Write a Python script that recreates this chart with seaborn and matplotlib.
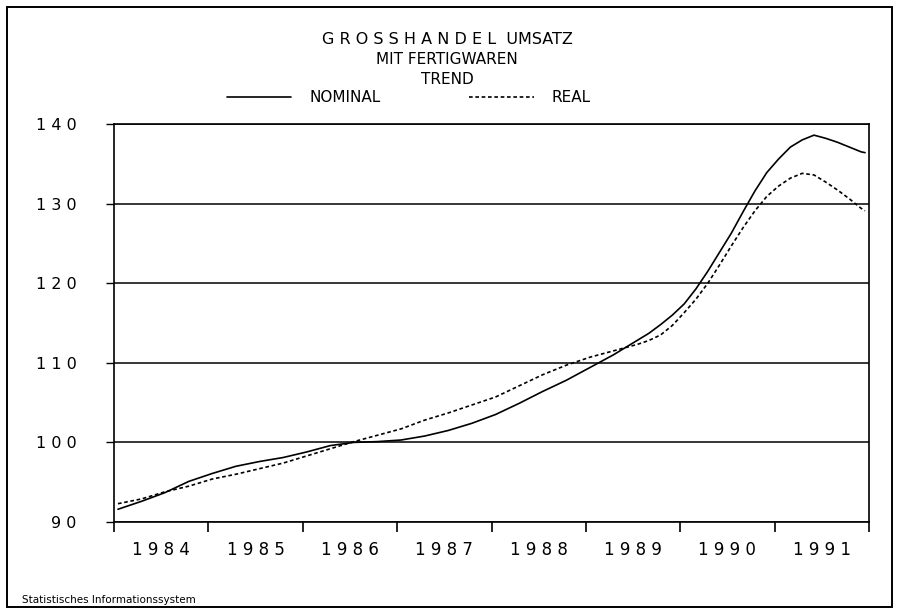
import numpy as np
import pandas as pd
import matplotlib
matplotlib.use("Agg")
import matplotlib.pyplot as plt
from matplotlib.patches import Rectangle
import seaborn as sns

# time axis: quarterly readings up to mid 1989, then every 1.5 months up to Dec 1991
t_quarterly = [1984.042, 1984.292, 1984.542, 1984.792,
               1985.042, 1985.292, 1985.542, 1985.792,
               1986.042, 1986.292, 1986.542, 1986.792,
               1987.042, 1987.292, 1987.542, 1987.792,
               1988.042, 1988.292, 1988.542, 1988.792,
               1989.042, 1989.292, 1989.542]
t_fine = [1989.667, 1989.792, 1989.917,
          1990.042, 1990.167, 1990.292, 1990.417, 1990.542, 1990.667, 1990.792, 1990.917,
          1991.042, 1991.167, 1991.292, 1991.417, 1991.542, 1991.667, 1991.792, 1991.917,
          1991.958]
nominal = [91.6, 92.6, 93.7, 95.1,
           96.1, 97.0, 97.6, 98.1,
           98.8, 99.6, 100.0, 100.1,
           100.3, 100.8, 101.5, 102.4,
           103.5, 104.9, 106.4, 107.8,
           109.4, 111.0, 112.8,
           113.7, 114.8, 116.0,
           117.4, 119.3, 121.5, 123.9, 126.3, 129.0, 131.6, 133.9,
           135.6, 137.1, 138.0, 138.6, 138.2, 137.7, 137.1, 136.5,
           136.4]
real = [92.3, 92.9, 93.8, 94.5,
        95.4, 96.0, 96.7, 97.4,
        98.3, 99.2, 100.1, 100.9,
        101.7, 102.8, 103.7, 104.7,
        105.7, 107.1, 108.5, 109.7,
        110.7, 111.5, 112.3,
        112.8, 113.5, 114.7,
        116.3, 118.0, 120.0, 122.3, 124.7, 127.0, 129.1, 130.9,
        132.2, 133.2, 133.8, 133.6, 132.7, 131.7, 130.6, 129.4,
        129.1]
series_names = ["NOMINAL", "REAL"]
years = list(range(1984, 1992))
y_ticks = [90, 100, 110, 120, 130, 140]

t = t_quarterly + t_fine
df = pd.concat([
    pd.DataFrame({"t": t, "wert": nominal, "reihe": series_names[0]}),
    pd.DataFrame({"t": t, "wert": real, "reihe": series_names[1]}),
])

sns.set_style("white")
plt.rcParams["font.family"] = ["DejaVu Sans"]
plt.rcParams["text.color"] = "black"
plt.rcParams["xtick.color"] = "black"
plt.rcParams["ytick.color"] = "black"

fig = plt.figure(figsize=(8.97, 6.09), dpi=100)
ax = fig.add_axes([114 / 897, 1 - 522 / 609, 755 / 897, 398 / 609])

sns.lineplot(data=df, x="t", y="wert", hue="reihe", style="reihe",
             palette=["black", "black"],
             dashes={"NOMINAL": "", "REAL": (2.2, 1.6)},
             linewidth=1.2, ax=ax)

ax.set_xlim(1984, 1992)
ax.set_ylim(90, 140)
ax.set_xlabel("")
ax.set_ylabel("")

# y axis: spaced digits, gridlines
ax.set_yticks(y_ticks)
ax.set_yticklabels([" ".join(str(v)) for v in y_ticks])
ax.yaxis.grid(True, color="black", linewidth=1.1)
ax.tick_params(axis="y", direction="out", length=6, width=1, color="black",
               labelsize=11.5, pad=21, left=True)

# x axis: year labels in the middle, ticks at year boundaries
ax.set_xticks([y + 0.5 for y in years])
ax.set_xticklabels([" ".join(str(y)) for y in years])
ax.set_xticks(list(range(1984, 1993)), minor=True)
ax.tick_params(axis="x", which="major", length=0, labelsize=12, pad=14)
ax.tick_params(axis="x", which="minor", direction="out", length=7, width=1.2,
               color="black", bottom=True)

for side in ["left", "right", "bottom", "top"]:
    ax.spines[side].set_visible(True)
    ax.spines[side].set_color("black")
    ax.spines[side].set_linewidth(1.2)

handles, labels = ax.get_legend_handles_labels()
ax.legend(handles, labels, loc="center", bbox_to_anchor=(409 / 897, 1 - 98 / 609),
          bbox_transform=fig.transFigure, ncol=2, frameon=False, fontsize=11,
          handlelength=4.2, handletextpad=1.2, columnspacing=5.8)

fig.text(447 / 897, 1 - 40 / 609, "G R O S S H A N D E L  UMSATZ", ha="center",
         va="center", fontsize=11.5)
fig.text(447 / 897, 1 - 59 / 609, "MIT FERTIGWAREN", ha="center", va="center",
         fontsize=11)
fig.text(447 / 897, 1 - 79 / 609, "TREND", ha="center", va="center", fontsize=11)
fig.text(22 / 897, 1 - 600 / 609, "Statistisches Informationssystem", ha="left",
         va="center", fontsize=7.5)

fig.add_artist(Rectangle((7 / 897, 2 / 609), 885 / 897, 600 / 609,
                         transform=fig.transFigure, fill=False,
                         edgecolor="black", linewidth=1.4))

fig.savefig("out.png", dpi=100)
